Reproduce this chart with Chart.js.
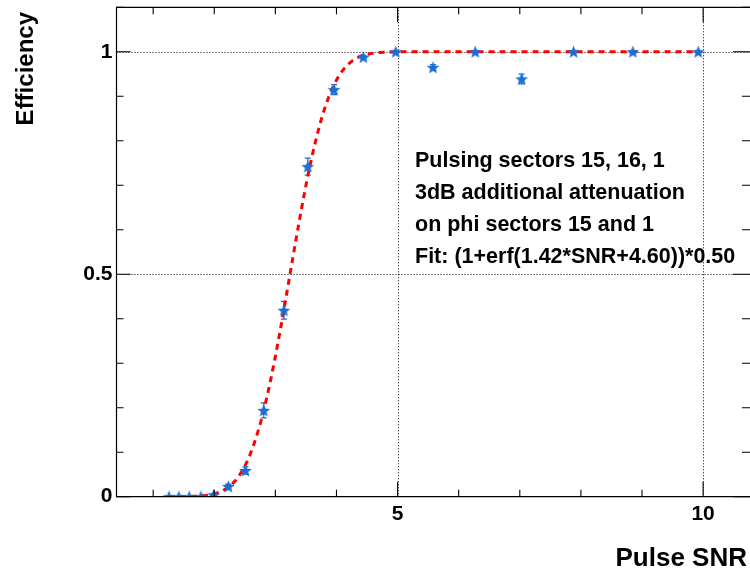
<!DOCTYPE html>
<html>
<head>
<meta charset="utf-8">
<script src="https://cdn.jsdelivr.net/npm/chart.js@4.4.1/dist/chart.umd.min.js"></script>
<style>
html, body { margin: 0; padding: 0; background: #fff; overflow: hidden; }
canvas { display: block; }
</style>
</head>
<body>
<canvas id="efficiency-graph" width="752" height="570"></canvas>
<script>
/**
 * Data
 */
const snrValues = [1.26, 1.42, 1.59, 1.78, 1.99, 2.23, 2.51, 2.81, 3.14, 3.53, 3.96, 4.44, 4.97, 5.58, 6.27, 7.03, 7.88, 8.85, 9.92];
const efficiencyValues = [0, 0, 0, 0, 0.004, 0.023, 0.059, 0.194, 0.419, 0.742, 0.915, 0.988, 1.0, 0.965, 1.0, 0.939, 1.0, 1.0, 1.0];
const efficiencyErrors = [0, 0, 0, 0, 0.003, 0.005, 0.008, 0.017, 0.02, 0.019, 0.011, 0.004, 0.002, 0.006, 0.002, 0.011, 0.002, 0.002, 0.002];

// fit parameters as printed on the plot
const fitSlope = 1.42;
const fitOffset = 4.60;
const fitNorm = 0.50;
const fitRange = [1.26, 9.92];
const fitSamples = 150;

// axis ticks
const xMajorTicks = [5, 10];
const xMinorTicks = [1, 2, 3, 4, 5, 6, 7, 8, 9, 10];
const yMajorTicks = [0, 0.5, 1];
const yMinorTicks = [0, 0.1, 0.2, 0.3, 0.4, 0.5, 0.6, 0.7, 0.8, 0.9, 1.0, 1.1];

const infoLines = [
    'Pulsing sectors 15, 16, 1',
    '3dB additional attenuation',
    'on phi sectors 15 and 1',
    'Fit: (1+erf(1.42*SNR+4.60))*0.50'
];

const fontFamily = '"Liberation Sans", Arial, Helvetica, sans-serif';
const markerColor = 'rgb(28, 110, 210)';

/**
 * Helpers
 */
const erf = (x) => {
    // Abramowitz & Stegun 7.1.26
    const sign = x < 0 ? -1 : 1;
    x = Math.abs(x);
    const t = 1 / (1 + 0.3275911 * x);
    const y = 1 - (((((1.061405429 * t - 1.453152027) * t) + 1.421413741) * t - 0.284496736) * t + 0.254829592) * t * Math.exp(-x * x);
    return sign * y;
};

const fitPoints = [];
for (let i = 0; i <= fitSamples; i++) {
    const x = fitRange[0] + (fitRange[1] - fitRange[0]) * i / fitSamples;
    fitPoints.push({ x: x, y: (1 + erf(fitSlope * x - fitOffset)) * fitNorm });
}

const makeStar = (color) => {
    const c = document.createElement('canvas');
    c.width = 15;
    c.height = 15;
    const ctx = c.getContext('2d');
    ctx.fillStyle = color;
    ctx.beginPath();
    for (let i = 0; i < 10; i++) {
        const r = i % 2 === 0 ? 6.8 : 2.9;
        const a = -Math.PI / 2 + i * Math.PI / 5;
        const px = 7.5 + r * Math.cos(a);
        const py = 8 + r * Math.sin(a);
        if (i === 0) ctx.moveTo(px, py); else ctx.lineTo(px, py);
    }
    ctx.closePath();
    ctx.fill();
    return c;
};

const noPadding = (scale) => {
    scale.paddingLeft = 0;
    scale.paddingRight = 0;
    scale.paddingTop = 0;
    scale.paddingBottom = 0;
};

/**
 * Frame, ticks, grid, error bars and text (ROOT style)
 */
const rootFramePlugin = {
    id: 'rootFrame',
    beforeDatasetsDraw(chart) {
        const ctx = chart.ctx;
        const a = chart.chartArea;
        const xs = chart.scales.x;
        const ys = chart.scales.y;
        ctx.save();
        // dotted grid at major ticks
        ctx.strokeStyle = '#000';
        ctx.lineWidth = 1;
        ctx.setLineDash([1, 2]);
        xMajorTicks.forEach(v => {
            const px = Math.round(xs.getPixelForValue(v)) + 0.5;
            ctx.beginPath();
            ctx.moveTo(px, a.top);
            ctx.lineTo(px, a.bottom);
            ctx.stroke();
        });
        yMajorTicks.filter(v => v > 0).forEach(v => {
            const py = Math.round(ys.getPixelForValue(v)) + 0.5;
            ctx.beginPath();
            ctx.moveTo(a.left, py);
            ctx.lineTo(a.right, py);
            ctx.stroke();
        });
        ctx.setLineDash([]);
        // error bars
        ctx.strokeStyle = markerColor;
        ctx.lineWidth = 1.3;
        snrValues.forEach((x, i) => {
            const err = efficiencyErrors[i];
            if (!err) return;
            const px = xs.getPixelForValue(x);
            const yTop = ys.getPixelForValue(efficiencyValues[i] + err);
            const yBot = ys.getPixelForValue(efficiencyValues[i] - err);
            ctx.beginPath();
            ctx.moveTo(px, yTop);
            ctx.lineTo(px, yBot);
            ctx.moveTo(px - 3, yTop);
            ctx.lineTo(px + 3, yTop);
            ctx.moveTo(px - 3, yBot);
            ctx.lineTo(px + 3, yBot);
            ctx.stroke();
        });
        ctx.restore();
    },
    afterDraw(chart) {
        const ctx = chart.ctx;
        const a = chart.chartArea;
        const xs = chart.scales.x;
        const ys = chart.scales.y;
        ctx.save();
        ctx.strokeStyle = '#000';
        ctx.lineWidth = 1.2;
        ctx.beginPath();
        ctx.rect(a.left, a.top, a.right - a.left, a.bottom - a.top);
        ctx.stroke();

        ctx.lineWidth = 1.1;
        ctx.beginPath();
        xMinorTicks.forEach(v => {
            const px = xs.getPixelForValue(v);
            const len = xMajorTicks.includes(v) ? 15 : 7;
            ctx.moveTo(px, a.bottom);
            ctx.lineTo(px, a.bottom - len);
            ctx.moveTo(px, a.top);
            ctx.lineTo(px, a.top + len);
        });
        yMinorTicks.forEach(v => {
            const py = ys.getPixelForValue(v);
            const major = yMajorTicks.includes(v);
            ctx.moveTo(a.left, py);
            ctx.lineTo(a.left + (major ? 14 : 7), py);
            ctx.moveTo(a.right, py);
            ctx.lineTo(a.right - (major ? 19 : 10), py);
        });
        ctx.stroke();

        // axis titles
        ctx.fillStyle = '#000';
        ctx.font = 'bold 26px ' + fontFamily;
        ctx.textAlign = 'right';
        ctx.textBaseline = 'alphabetic';
        ctx.fillText('Pulse SNR', 747, 566);

        ctx.save();
        ctx.translate(33, 12);
        ctx.rotate(-Math.PI / 2);
        ctx.font = 'bold 24px ' + fontFamily;
        ctx.textAlign = 'right';
        ctx.fillText('Efficiency', 0, 0);
        ctx.restore();

        // info text
        ctx.font = 'bold 21.5px ' + fontFamily;
        ctx.textAlign = 'left';
        infoLines.forEach((line, i) => {
            ctx.fillText(line, 415, 167 + i * 32);
        });
        ctx.restore();
    }
};

/**
 * Chart
 */
let efficiencyChartData = {
    datasets: [
        {
            label: 'Efficiency',
            data: snrValues.map((x, i) => ({ x: x, y: efficiencyValues[i] })),
            showLine: false,
            pointStyle: makeStar(markerColor),
            pointRadius: 6,
            order: 0
        },
        {
            label: 'Fit',
            data: fitPoints,
            showLine: true,
            borderColor: '#ff0000',
            borderWidth: 3,
            borderDash: [6, 5],
            pointRadius: 0,
            tension: 0,
            order: 1
        }
    ]
};

let efficiencyConfig = {
    type: 'scatter',
    data: efficiencyChartData,
    options: {
        responsive: false,
        animation: false,
        layout: {
            autoPadding: false,
            padding: { top: 7.3, right: 0, left: 0, bottom: 0 }
        },
        plugins: {
            legend: { display: false },
            tooltip: { enabled: false }
        },
        scales: {
            x: {
                type: 'linear',
                min: 0.4,
                max: 10.8,
                grid: { display: false, drawTicks: false },
                border: { display: false },
                afterBuildTicks: (scale) => {
                    scale.ticks = xMajorTicks.map(v => ({ value: v }));
                },
                afterFit: (scale) => {
                    scale.height = 73.3;
                    noPadding(scale);
                },
                ticks: {
                    padding: 5,
                    color: '#000',
                    font: { family: fontFamily, size: 21, weight: 'bold' },
                    callback: (value) => String(value)
                }
            },
            y: {
                type: 'linear',
                min: 0,
                max: 1.1,
                grid: { display: false, drawTicks: false },
                border: { display: false },
                afterBuildTicks: (scale) => {
                    scale.ticks = yMajorTicks.map(v => ({ value: v }));
                },
                afterFit: (scale) => {
                    scale.width = 116.5;
                    noPadding(scale);
                },
                ticks: {
                    padding: 4,
                    color: '#000',
                    font: { family: fontFamily, size: 21, weight: 'bold' },
                    callback: (value) => String(value)
                }
            }
        }
    },
    plugins: [rootFramePlugin]
};

const efficiencyChart = new Chart(
    document.getElementById('efficiency-graph'),
    efficiencyConfig
);
</script>
</body>
</html>
